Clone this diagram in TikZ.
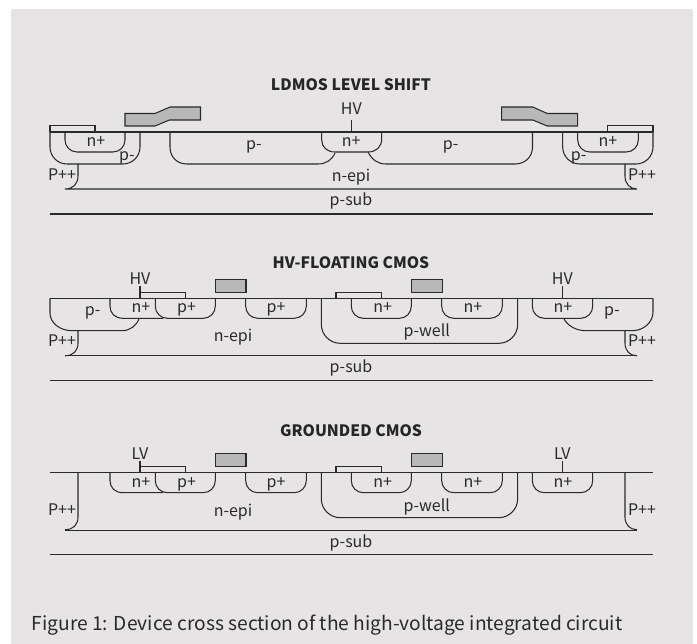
\documentclass[tikz,border=0pt]{standalone}
\usepackage{fontspec}
\setmainfont{Noto Sans CJK SC}
\definecolor{panel}{HTML}{E7E4E5}
\definecolor{ink}{HTML}{2A2A2A}
\definecolor{gatefill}{HTML}{B9B8B8}
\tikzset{
  wall/.style={draw=ink,line width=1.05pt},
  rnd/.style={wall,rounded corners=12pt},
  rndb/.style={wall,rounded corners=17pt},
  gatebox/.style={draw=ink,line width=1.05pt,fill=gatefill},
  lab/.style={text=ink,inner sep=0pt,anchor=base,yshift=-1pt,font=\fontsize{16}{18}\selectfont},
  ttl/.style={text=black!85,inner sep=0pt,anchor=base,yshift=-1.5pt,font=\fontsize{15.7}{18}\selectfont\bfseries},
  captext/.style={text=ink,inner sep=0pt,anchor=base west,font=\fontsize{19.2}{22}\selectfont}
}
% shared part of the two CMOS sections: #1 tag, #2 surface y, #3 voltage text
\newcommand{\cmosrow}[3]{%
\begin{scope}[shift={(0,#2)}]
  \draw[wall] (50,0) -- (653,0);
  \draw[rnd] (155.3,0) -- (155.3,20) -- (215.3,20) -- (215.3,0);
  \draw[wall] (110,0) -- (110,8) .. controls (110,15) and (115,20) .. (123,20) -- (163,20);
  \draw[rnd] (245.7,0) -- (245.7,20) -- (306.3,20) -- (306.3,0);
  \draw[rndb,rounded corners=19pt] (321.3,0) -- (321.3,45) -- (517.7,45) -- (517.7,0);
  \draw[rnd] (351.3,0) -- (351.3,20) -- (411.3,20) -- (411.3,0);
  \draw[rnd] (441.7,0) -- (441.7,20) -- (502.3,20) -- (502.3,0);
  \draw[rnd] (532.3,0) -- (532.3,20) -- (592.7,20) -- (592.7,0);
  \draw[wall] (140,-12) -- (140,0);
  \draw[wall] (140,-6) -- (185.7,-6) -- (185.7,0);
  \draw[wall] (336,0) -- (336,-6) -- (381.7,-6) -- (381.7,0);
  \draw[wall] (562.3,-12) -- (562.3,0);
  \draw[gatebox] (215.3,-19) rectangle (246,-6);
  \draw[gatebox] (411.3,-19) rectangle (442.3,-6);
  \draw[wall] (65,57.5) -- (637,57.5);
  \draw[wall] (50,82) -- (653,82);
  \node[lab] (#1v1) at (140,-14.3) {#3};
  \node[lab] (#1v2) at (562.3,-14.3) {#3};
  \node[lab] (#1n1) at (141,13.4) {n+};
  \node[lab] (#1p1) at (186.5,13.4) {p+};
  \node[lab] (#1p2) at (276,13.4) {p+};
  \node[lab] (#1n2) at (382.7,13.4) {n+};
  \node[lab] (#1n3) at (473,13.4) {n+};
  \node[lab] (#1n4) at (563,13.4) {n+};
  \node[lab] (#1w) at (426.7,37.7) {p-well};
  \node[lab] (#1e) at (233,42.7) {n-epi};
  \node[lab] (#1s) at (351,73.4) {p-sub};
\end{scope}}
\begin{document}
\begin{tikzpicture}[x=1pt,y=-1pt]
\useasboundingbox (0,0) rectangle (697,644);
\fill[panel] (11,9) rectangle (693,644);

% ---------- LDMOS level shift
\node[ttl] (t1) at (351,89) {LDMOS LEVEL SHIFT};
\draw[wall] (50,132) -- (653,132);
\draw[wall] (50,132) -- (50,125.7) -- (95,125.7) -- (95,132);
\draw[wall] (607.7,132) -- (607.7,125.7) -- (653,125.7) -- (653,132);
\draw[rndb] (50,132) -- (50,164) -- (140,164) -- (140,132);
\draw[rnd] (65,132) -- (65,152) -- (125,152) -- (125,132);
\draw[rndb] (562.7,132) -- (562.7,164) -- (653,164) -- (653,132);
\draw[rnd] (577.7,132) -- (577.7,152) -- (638.3,152) -- (638.3,132);
\draw[wall] (170,132) -- (170,147) .. controls (170,157) and (177,164) .. (187,164) -- (318,164) .. controls (326,164) and (332,160) .. (335,153);
\draw[wall] (321.7,132) -- (321.7,140) .. controls (321.7,147) and (327,152) .. (335,152) -- (368,152) .. controls (376,152) and (381.7,147) .. (381.7,139) -- (381.7,132);
\draw[wall] (368,152) .. controls (372,160) and (378,164) .. (386,164) -- (515,164) .. controls (525,164) and (532.5,157) .. (532.5,147) -- (532.5,132);
\draw[wall] (351.3,120) -- (351.3,132);
\draw[gatebox] (125,113.5) -- (155,113.5) -- (170,107) -- (200.5,107) -- (200.5,120) -- (169.5,120) -- (155,126) -- (125,126) -- cycle;
\draw[gatebox] (501.7,107) -- (532.7,107) -- (547.3,113.5) -- (577.7,113.5) -- (577.7,126) -- (547.3,126) -- (532.7,120) -- (501.7,120) -- cycle;
\draw[wall] (78,164) -- (78,176) .. controls (78,184) and (73,189) .. (65,189) -- (637,189) .. controls (630,189) and (625,184) .. (625,176) -- (625,164);
\draw[wall] (50,214) -- (653,214);
\node[lab] (a1) at (96,146) {n+};
\node[lab] (a2) at (127,159.3) {p-};
\node[lab] (a3) at (62,180) {P++};
\node[lab] (a4) at (254,148.3) {p-};
\node[lab] (a5) at (351.3,114) {HV};
\node[lab] (a6) at (351.3,146) {n+};
\node[lab] (a7) at (351,180.7) {n-epi};
\node[lab] (a8) at (351,205) {p-sub};
\node[lab] (a9) at (450.7,148.3) {p-};
\node[lab] (a10) at (578.7,159.3) {p-};
\node[lab] (a11) at (608,146) {n+};
\node[lab] (a12) at (642,180) {P++};

% ---------- HV-floating CMOS
\node[ttl] (t2) at (351,266.7) {HV-FLOATING CMOS};
\cmosrow{b}{298.3}{HV}
\draw[wall] (50,298.3) -- (50,313) .. controls (50,323) and (60,330.7) .. (72,330.7) -- (122,330.7) .. controls (130,330.7) and (136,326) .. (139,319);
\draw[wall] (564,319) .. controls (568,326) and (576,330.7) .. (586,330.7) -- (632,330.7) .. controls (644,330.7) and (653,322) .. (653,312) -- (653,298.3);
\draw[wall] (78,330.7) -- (78,343) .. controls (78,351) and (73,355.8) .. (65,355.8);
\draw[wall] (625,330.7) -- (625,343) .. controls (625,351) and (630,355.8) .. (637,355.8);
\node[lab] (b1) at (92.7,315) {p-};
\node[lab] (b2) at (612,315) {p-};
\node[lab] (b3) at (62,346) {P++};
\node[lab] (b4) at (642,346) {P++};

% ---------- Grounded CMOS
\node[ttl] (t3) at (351,435) {GROUNDED CMOS};
\cmosrow{c}{472.7}{LV}
\draw[wall] (78,472.7) -- (78,517) .. controls (78,525) and (73,529.7) .. (65,529.7);
\draw[wall] (625,472.7) -- (625,517) .. controls (625,525) and (630,529.7) .. (637,529.7);
\node[lab] (c1) at (62,514.3) {P++};
\node[lab] (c2) at (642,514.3) {P++};

% ---------- caption
\node[captext] (cap1) at (31.5,630) {Figure 1: Device cross section of the high-voltage integrated circuit};
\end{tikzpicture}
\end{document}
